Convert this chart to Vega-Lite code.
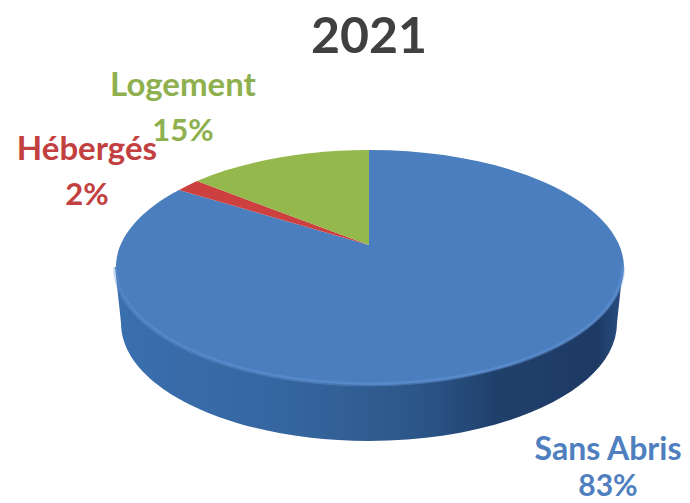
{
  "$schema": "https://vega.github.io/schema/vega-lite/v6.json",
  "description": "2021 perspective pie. Caveat: an arc mark cannot draw an ellipse, so the slices use the shape scale with wedge paths traced from the reference; their angles are not computed from the value field, which drives only the percentage labels.",
  "width": 690,
  "height": 503,
  "autosize": {"type": "fit", "contains": "padding"},
  "padding": 0,
  "background": "#ffffff",
  "config": {"view": {"stroke": null}},
  "data": {"values": [
    {"category": "Sans Abris", "value": 0.83},
    {"category": "Hébergés", "value": 0.02},
    {"category": "Logement", "value": 0.15}
  ]},
  "layer": [
    {
      "transform": [{"filter": "datum.category === 'Sans Abris'"}],
      "mark": {"type": "point", "filled": true, "opacity": 0.7, "size": 4, "fill": "#efe9e3", "shape": "M-222,82 A248,118 0 0 0 270,82 L270,70 L-222,70 Z"}
    },
    {
      "transform": [{"filter": "datum.category === 'Sans Abris'"}],
      "mark": {"type": "point", "filled": true, "opacity": 1, "size": 4,
        "shape": "M-230,15.5 L-224,71.5 A248,118 0 0 0 272,71.5 L278,15.5 Z",
        "fill": {"gradient": "linear", "x1": 0, "y1": 0, "x2": 1, "y2": 0, "stops": [
          {"offset": 0, "color": "#3a6fae"},
          {"offset": 0.35, "color": "#35659f"},
          {"offset": 0.6, "color": "#2c5688"},
          {"offset": 0.75, "color": "#20406c"},
          {"offset": 0.95, "color": "#1d3a64"},
          {"offset": 1, "color": "#2a4f82"}
        ]}
      }
    },
    {
      "mark": {"type": "point", "filled": true, "opacity": 1, "size": 4},
      "encoding": {
        "shape": {"field": "category", "type": "nominal", "legend": null, "scale": {
          "domain": ["Sans Abris", "Hébergés", "Logement"],
          "range": [
            "M24,-6.5 L24,-101.5 A254,117.5 0 1 1 -166,-61.5 Z",
            "M24,-6.5 L-166,-61.5 A254,117.5 0 0 1 -148,-70.5 Z",
            "M24,-6.5 L-148,-70.5 A254,117.5 0 0 1 24,-101.5 Z"
          ]
        }},
        "color": {"field": "category", "type": "nominal", "legend": null, "scale": {
          "domain": ["Sans Abris", "Hébergés", "Logement"],
          "range": ["#4a7ebe", "#cc4040", "#94b84c"]
        }}
      }
    },
    {
      "transform": [{"filter": "datum.category === 'Sans Abris'"}],
      "mark": {"type": "point", "filled": false, "fill": "transparent", "opacity": 0.35, "size": 4, "stroke": "#6f9fe0", "strokeWidth": 4, "shape": "M-230,15.5 A254,117.5 0 0 0 278,15.5"}
    },
    {
      "data": {"values": [{"year": "2021"}]},
      "mark": {"type": "text", "font": "Lato", "fontWeight": "bold", "fontSize": 50, "color": "#404040", "dx": 24, "dy": -214, "baseline": "middle"},
      "encoding": {"text": {"field": "year"}}
    },
    {
      "transform": [{"filter": "datum.category === 'Logement'"}],
      "mark": {"type": "text", "font": "Lato", "fontWeight": "bold", "fontSize": 33, "color": "#8fb04f", "dx": -162, "dy": -166, "baseline": "middle"},
      "encoding": {"text": {"field": "category"}}
    },
    {
      "transform": [{"filter": "datum.category === 'Logement'"}],
      "mark": {"type": "text", "font": "Lato", "fontWeight": "bold", "fontSize": 31, "color": "#8fb04f", "dx": -162, "dy": -120, "baseline": "middle"},
      "encoding": {"text": {"field": "value", "format": ".0%"}}
    },
    {
      "transform": [{"filter": "datum.category === 'Hébergés'"}],
      "mark": {"type": "text", "font": "Lato", "fontWeight": "bold", "fontSize": 33, "color": "#c2403f", "dx": -258, "dy": -102, "baseline": "middle"},
      "encoding": {"text": {"field": "category"}}
    },
    {
      "transform": [{"filter": "datum.category === 'Hébergés'"}],
      "mark": {"type": "text", "font": "Lato", "fontWeight": "bold", "fontSize": 31, "color": "#c2403f", "dx": -258, "dy": -56, "baseline": "middle"},
      "encoding": {"text": {"field": "value", "format": ".0%"}}
    },
    {
      "transform": [{"filter": "datum.category === 'Sans Abris'"}],
      "mark": {"type": "text", "font": "Lato", "fontWeight": "bold", "fontSize": 32, "color": "#4f7fbe", "dx": 263, "dy": 198, "baseline": "middle"},
      "encoding": {"text": {"field": "category"}}
    },
    {
      "transform": [{"filter": "datum.category === 'Sans Abris'"}],
      "mark": {"type": "text", "font": "Lato", "fontWeight": "bold", "fontSize": 30, "color": "#4f7fbe", "dx": 263, "dy": 235, "baseline": "middle"},
      "encoding": {"text": {"field": "value", "format": ".0%"}}
    }
  ]
}
